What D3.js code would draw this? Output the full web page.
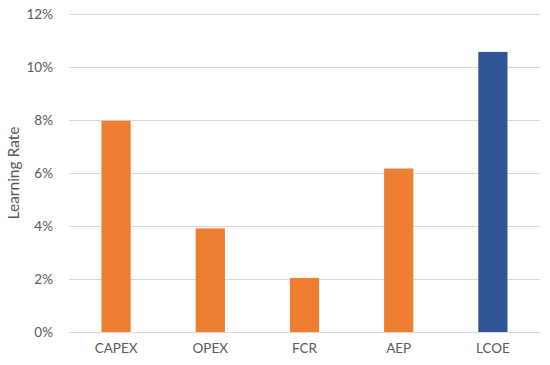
<!DOCTYPE html>
<html>
<head>
<meta charset="utf-8">
<script src="https://cdn.jsdelivr.net/npm/d3@7"></script>
<style>
  body { margin: 0; background: #fff; }
  .chart text { font-family: Lato, "Open Sans", sans-serif; fill: #595959; }
</style>
</head>
<body>
<div class="chart"></div>
<script>
const categories = ['CAPEX', 'OPEX', 'FCR', 'AEP', 'LCOE'];
const values = [0.0797, 0.0391, 0.0204, 0.0617, 0.1057];
const barColors = ['#ED7D31', '#ED7D31', '#ED7D31', '#ED7D31', '#2F5597'];
const yTicks = [0, 0.02, 0.04, 0.06, 0.08, 0.10, 0.12];

const width = 550, height = 365;
const margin = { left: 69, right: 10, top: 14, bottom: 33 };
const graphWidth = width - margin.left - margin.right;
const graphHeight = height - margin.top - margin.bottom;

const svg = d3.select('.chart')
  .append('svg')
  .attr('width', width)
  .attr('height', height);

const graph = svg.append('g')
  .attr('transform', `translate(${margin.left}, ${margin.top})`);

const x = d3.scaleBand()
  .domain(categories)
  .range([0, graphWidth]);

const y = d3.scaleLinear()
  .domain([0, 0.12])
  .range([graphHeight, 0]);

// gridlines
graph.append('g')
  .selectAll('line')
  .data(yTicks)
  .join('line')
  .attr('x1', 0)
  .attr('x2', graphWidth)
  .attr('y1', d => Math.round(y(d)) + 0.5)
  .attr('y2', d => Math.round(y(d)) + 0.5)
  .attr('stroke', '#d9d9d9')
  .attr('stroke-width', 1);

// y axis labels
const yAxis = d3.axisLeft(y).tickValues(yTicks).tickSize(0).tickPadding(16)
  .tickFormat(d3.format('.0%'));
graph.append('g')
  .call(yAxis)
  .call(g => g.select('.domain').remove())
  .selectAll('text')
  .attr('font-size', 13.5);

// x axis labels
const xAxis = d3.axisBottom(x).tickSize(0).tickPadding(11);
graph.append('g')
  .attr('transform', `translate(0, ${graphHeight})`)
  .call(xAxis)
  .call(g => g.select('.domain').remove())
  .selectAll('text')
  .attr('font-size', 13.5);

// bars
const barWidth = x.bandwidth() * 0.31;
graph.append('g')
  .selectAll('rect')
  .data(categories.map((c, i) => ({ c, v: values[i], color: barColors[i] })))
  .join('rect')
  .attr('x', d => x(d.c) + (x.bandwidth() - barWidth) / 2)
  .attr('y', d => y(d.v))
  .attr('width', barWidth)
  .attr('height', d => y(0) - y(d.v))
  .attr('fill', d => d.color);

// y axis title
svg.append('text')
  .attr('transform', `translate(19, ${margin.top + graphHeight / 2}) rotate(-90)`)
  .attr('text-anchor', 'middle')
  .attr('font-size', 15.5)
  .text('Learning Rate');
</script>
</body>
</html>
